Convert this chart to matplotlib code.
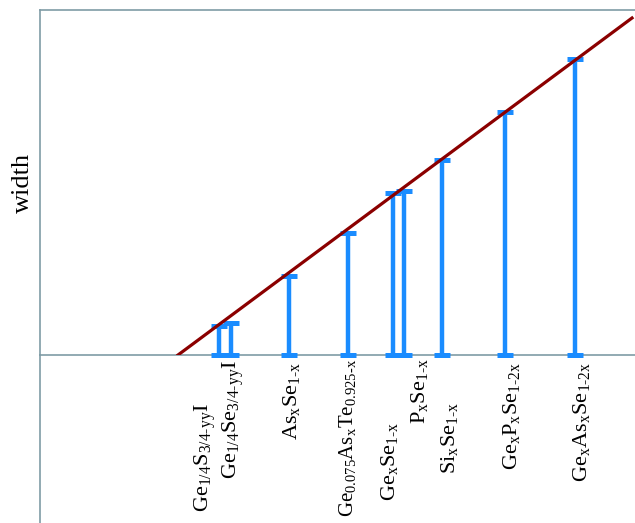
import matplotlib
matplotlib.use("Agg")
import matplotlib.pyplot as plt
import matplotlib.transforms as mtransforms

plt.rcParams["font.family"] = ["Liberation Serif", "DejaVu Serif"]
plt.rcParams["mathtext.fontset"] = "custom"
plt.rcParams["mathtext.rm"] = "Liberation Serif"
plt.rcParams["mathtext.it"] = "Liberation Serif"
plt.rcParams["mathtext.default"] = "rm"

# ---------------------------------------------------------------------------
# data (arbitrary units)
# ---------------------------------------------------------------------------
materials = [
    r"Ge$_{1/4}$S$_{3/4\text{-}y}{}_{y}$I",
    r"Ge$_{1/4}$Se$_{3/4\text{-}y}{}_{y}$I",
    r"As$_x$Se$_{1\text{-}x}$",
    r"Ge$_{0.075}$As$_x$Te$_{0.925\text{-}x}$",
    r"Ge$_x$Se$_{1\text{-}x}$",
    r"P$_x$Se$_{1\text{-}x}$",
    r"Si$_x$Se$_{1\text{-}x}$",
    r"Ge$_x$P$_x$Se$_{1\text{-}2x}$",
    r"Ge$_x$As$_x$Se$_{1\text{-}2x}$",
]
position = [219, 231, 289, 348, 393, 404, 442, 505, 575]
width = [29, 32, 79, 122, 162, 164, 195, 243, 296]

fit_x = [178, 632]
fit_y = [0, 337]

# label placement (layout only): centre x, top edge in pixels below axes, size
label_x = [205, 233, 291, 347, 390, 420, 449, 512, 582]
label_top = [47, 5, 7, 4, 67, 3, 47, 7, 7]
label_size = [16, 16, 16, 15, 16, 16, 16, 16, 16]

BLUE = "#1a8cff"
RED = "#8b0000"
FRAME = "#7f9ca6"

fig = plt.figure(figsize=(6.35, 5.23), dpi=100)
ax = fig.add_axes([40 / 635, 168 / 523, 595 / 635, 345 / 523])

ax.errorbar(position, width, yerr=[width, [0] * len(width)], fmt="none",
            ecolor=BLUE, elinewidth=3.2, capsize=5.8, capthick=3.6, zorder=3,
            clip_on=False)
ax.plot(fit_x, fit_y, color=RED, lw=2.3, zorder=4)

ax.set_xlim(40, 635)
ax.set_ylim(0, 345)
ax.set_xticks([])
ax.set_yticks([])
ax.spines["right"].set_visible(False)
for s in ["left", "top", "bottom"]:
    ax.spines[s].set_color(FRAME)
    ax.spines[s].set_linewidth(1.2)

# left frame line runs on down to the bottom of the figure
ax.plot([0, 0], [0, -168 / 345], transform=ax.transAxes, color=FRAME,
        lw=1.2, clip_on=False)

ax.set_ylabel("width", fontsize=19, labelpad=4)

trans = mtransforms.blended_transform_factory(ax.transData, ax.transAxes)
for name, lx, top, fs in zip(materials, label_x, label_top, label_size):
    ax.text(lx, -top / 345, name, rotation=90, ha="center", va="top",
            fontsize=fs, transform=trans)

fig.savefig("out.png", dpi=100)
